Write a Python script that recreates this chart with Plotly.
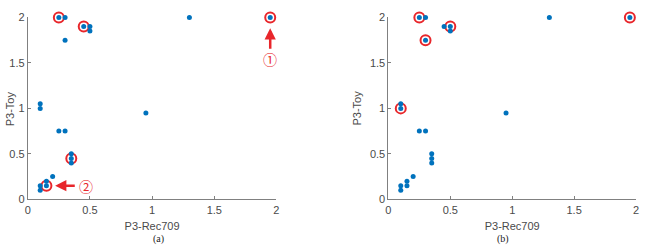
import plotly.graph_objects as go

# Data (same scatter in both panels)
x_vals = [0.25, 0.30, 1.30, 1.95, 0.45, 0.50, 0.50, 0.30, 0.10, 0.10, 0.95,
          0.25, 0.30, 0.35, 0.35, 0.35, 0.20, 0.15, 0.15, 0.10, 0.10]
y_vals = [2.00, 2.00, 2.00, 2.00, 1.90, 1.90, 1.85, 1.75, 1.05, 1.00, 0.95,
          0.75, 0.75, 0.50, 0.45, 0.40, 0.25, 0.20, 0.15, 0.15, 0.10]

# Highlighted points
hl_a_x = [0.25, 0.45, 1.95, 0.35, 0.15]
hl_a_y = [2.00, 1.90, 2.00, 0.45, 0.15]
hl_b_x = [0.25, 0.50, 0.30, 0.10, 1.95]
hl_b_y = [2.00, 1.90, 1.75, 1.00, 2.00]

ticks = [0, 0.5, 1, 1.5, 2]
tick_text = ["0", "0.5", "1", "1.5", "2"]

BLUE = "#0072BD"
RED = "#E8262B"
AX = "#808080"
TXT = "#4a4a4a"
FONT = "Liberation Sans, Arial, sans-serif"

fig = go.Figure()

for xa, ya, hx, hy in [("x", "y", hl_a_x, hl_a_y), ("x2", "y2", hl_b_x, hl_b_y)]:
    fig.add_trace(go.Scatter(x=hx, y=hy, xaxis=xa, yaxis=ya, mode="markers",
                             marker=dict(symbol="circle-open", size=10, color=RED,
                                         line=dict(width=2, color=RED)),
                             cliponaxis=False, showlegend=False))
    fig.add_trace(go.Scatter(x=x_vals, y=y_vals, xaxis=xa, yaxis=ya, mode="markers",
                             marker=dict(symbol="circle", size=5, color=BLUE),
                             cliponaxis=False, showlegend=False))

ydom = [49 / 252, 240 / 252]
axis_common = dict(range=[0, 2], tickvals=ticks, ticktext=tick_text, showgrid=False,
                   zeroline=False, showline=True, linecolor=AX, linewidth=1,
                   ticks="inside", ticklen=3, tickcolor=AX,
                   tickfont=dict(family=FONT, size=11, color=TXT))
title_font = dict(family=FONT, size=11, color=TXT)

fig.update_layout(
    width=645, height=252, margin=dict(l=0, r=0, t=0, b=0),
    paper_bgcolor="white", plot_bgcolor="white",
    xaxis=dict(domain=[25 / 645, 276 / 645], anchor="y",
               title=dict(text="P3-Rec709", standoff=7, font=title_font),
               **axis_common),
    yaxis=dict(domain=ydom, anchor="x", **axis_common),
    xaxis2=dict(domain=[389 / 645, 639 / 645], anchor="y2",
                title=dict(text="P3-Rec709", standoff=7, font=title_font),
                **axis_common),
    yaxis2=dict(domain=ydom, anchor="x2",
                title=dict(text="P3-Toy", standoff=6, font=title_font),
                **axis_common),
)

# Left panel y-axis title, squeezed against the left edge
fig.add_annotation(x=7 / 645, y=(ydom[0] + ydom[1]) / 2, xref="paper", yref="paper",
                   text="P3-Toy", textangle=-90, showarrow=False, xanchor="center",
                   font=title_font)

# Arrows in panel (a)
fig.add_annotation(x=1.95, y=1.88, ax=1.95, ay=1.64, xref="x", yref="y", axref="x", ayref="y",
                   showarrow=True, arrowhead=2, arrowsize=0.9, arrowwidth=2.5, arrowcolor=RED, text="")
fig.add_annotation(x=1.95, y=1.54, xref="x", yref="y", text="①", showarrow=False,
                   font=dict(family="Noto Sans CJK SC, DejaVu Sans", size=14, color=RED))
fig.add_annotation(x=0.22, y=0.15, ax=0.39, ay=0.15, xref="x", yref="y", axref="x", ayref="y",
                   showarrow=True, arrowhead=2, arrowsize=0.9, arrowwidth=2.5, arrowcolor=RED, text="")
fig.add_annotation(x=0.47, y=0.15, xref="x", yref="y", text="②", showarrow=False,
                   font=dict(family="Noto Sans CJK SC, DejaVu Sans", size=14, color=RED))

# Captions
cap_font = dict(family="Liberation Serif, Times New Roman, serif", size=10, color="#222")
fig.add_annotation(x=150 / 645, y=0, xref="paper", yref="paper", text="(a)", showarrow=False,
                   yanchor="bottom", borderpad=0, font=cap_font)
fig.add_annotation(x=512 / 645, y=0, xref="paper", yref="paper", text="(b)", showarrow=False,
                   yanchor="bottom", borderpad=0, font=cap_font)

fig.write_html("out.html")
